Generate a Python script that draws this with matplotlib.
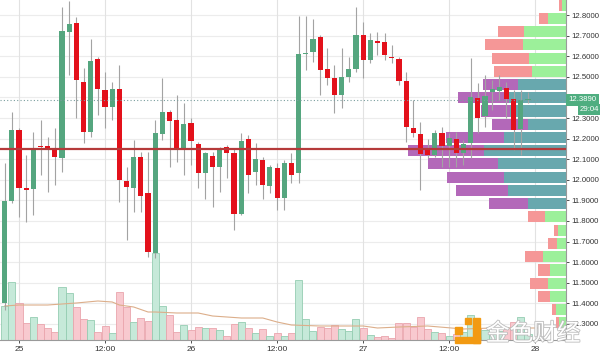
import numpy as np
import matplotlib
matplotlib.use('Agg')
import matplotlib.pyplot as plt
from matplotlib.patches import Rectangle
import matplotlib.patheffects as pe

plt.rcParams['font.family'] = ['Liberation Sans', 'DejaVu Sans']

# ---------------- data ----------------
hours = np.arange(-2, 72)  # hourly candles, 0 = day 25 00:00

opens = [11.402, 11.897, 12.242, 11.960, 11.955, 12.164, 12.164, 12.150, 12.106, 12.717,
         12.761, 12.475, 12.232, 12.586, 12.436, 12.353, 12.441, 11.994, 11.960, 12.111,
         11.936, 11.645, 12.222, 12.329, 12.290, 12.154, 12.276, 12.174, 12.033, 12.116,
         12.062, 12.159, 12.130, 11.834, 12.198, 12.038, 12.096, 11.970, 12.057, 11.912,
         12.082, 12.033, 12.611, 12.620, 12.693, 12.538, 12.494, 12.412, 12.499, 12.538,
         12.703, 12.582, 12.674, 12.669, 12.596, 12.586, 12.480, 12.251, 12.222, 12.145,
         12.120, 12.227, 12.164, 12.198, 12.130, 12.179, 12.397, 12.310, 12.426, 12.431,
         12.446, 12.392, 12.247, 12.387]
closes = [11.897, 12.242, 11.960, 11.951, 12.145, 12.157, 12.154, 12.111, 12.722, 12.756,
          12.484, 12.232, 12.577, 12.441, 12.353, 12.441, 11.999, 11.965, 12.111, 11.921,
          11.650, 12.227, 12.329, 12.285, 12.154, 12.271, 12.188, 12.033, 12.130, 12.062,
          12.150, 12.130, 11.834, 12.188, 12.023, 12.101, 11.975, 12.062, 11.912, 12.082,
          12.023, 12.611, 12.616, 12.683, 12.533, 12.494, 12.412, 12.499, 12.538, 12.703,
          12.582, 12.679, 12.664, 12.606, 12.591, 12.480, 12.256, 12.227, 12.125, 12.120,
          12.227, 12.164, 12.203, 12.130, 12.174, 12.402, 12.300, 12.407, 12.441, 12.451,
          12.392, 12.242, 12.387, 12.389]
highs = [12.082, 12.329, 12.251, 12.120, 12.232, 12.290, 12.208, 12.251, 12.839, 12.870,
         12.790, 12.543, 12.683, 12.596, 12.523, 12.475, 12.557, 12.062, 12.193, 12.135,
         12.135, 12.290, 12.494, 12.339, 12.412, 12.373, 12.300, 12.184, 12.135, 12.135,
         12.159, 12.169, 12.154, 12.227, 12.218, 12.179, 12.111, 12.072, 12.082, 12.096,
         12.130, 12.795, 12.795, 12.781, 12.703, 12.640, 12.557, 12.640, 12.596, 12.839,
         12.766, 12.713, 12.717, 12.713, 12.654, 12.596, 12.523, 12.387, 12.281, 12.198,
         12.242, 12.256, 12.227, 12.232, 12.193, 12.591, 12.470, 12.509, 12.484, 12.509,
         12.475, 12.436, 12.436, 12.426]
lows = [11.368, 11.887, 11.819, 11.795, 11.829, 12.023, 11.941, 11.975, 12.038, 12.509,
        12.300, 12.179, 12.208, 12.315, 12.251, 12.290, 11.892, 11.708, 11.844, 11.844,
        11.625, 11.620, 12.193, 12.062, 12.086, 12.023, 12.072, 11.960, 11.907, 11.868,
        11.941, 12.009, 11.756, 11.829, 11.936, 11.975, 11.907, 11.936, 11.853, 11.853,
        11.985, 11.985, 12.533, 12.572, 12.412, 12.460, 12.324, 12.349, 12.475, 12.523,
        12.494, 12.567, 12.606, 12.582, 12.567, 12.460, 12.184, 12.208, 11.951, 12.106,
        12.111, 12.062, 12.062, 12.062, 12.072, 12.106, 12.227, 12.256, 12.339, 12.387,
        12.300, 12.145, 12.120, 12.373]
volumes = [34, 58, 37, 17, 23, 16, 12, 8, 53, 47,
           33, 21, 20, 8, 14, 7, 48, 33, 18, 22,
           19, 87, 34, 25, 8, 15, 10, 13, 12, 12,
           10, 4, 16, 18, 12, 7, 11, 4, 7, 4,
           7, 60, 21, 9, 13, 12, 15, 11, 9, 21,
           12, 5, 3, 4, 2, 17, 17, 13, 23, 11,
           8, 7, 4, 6, 8, 25, 12, 10, 8, 9,
           12, 18, 23, 6]
ma_hours = [-2, 0, 4, 8, 11, 13, 14, 16, 18, 19, 22, 25, 27, 31, 34, 36, 38, 42, 48, 50, 53, 57, 62, 66, 70, 73]
ma_vals = [34, 35, 35, 37, 39, 38, 35, 33, 28, 28, 27, 27, 24, 22, 22, 18, 15, 14, 14, 12, 13, 14, 11, 12, 12, 12]

prof_levels = [12.849, 12.784, 12.720, 12.656, 12.591, 12.527, 12.463, 12.399, 12.334, 12.270,
               12.205, 12.141, 12.077, 12.013, 11.948, 11.884, 11.820, 11.755, 11.691, 11.627,
               11.562, 11.498, 11.434, 11.369, 11.305]
prof_down = [3, 9, 26, 38, 37, 38, 35, 51, 29, 36, 58, 76, 70, 57, 52, 39, 17, 4, 9, 18, 12, 18, 12, 4, 3]
prof_up = [4, 18, 42, 43, 37, 34, 48, 57, 56, 38, 62, 82, 68, 62, 58, 38, 21, 8, 9, 23, 16, 18, 16, 10, 7]
va_low, va_high = 11.86, 12.48

poc_line = 12.150
last_price = 12.389
countdown = '29:04'

ytick_vals = [11.3, 11.4, 11.5, 11.6, 11.7, 11.8, 11.9, 12.0, 12.1, 12.2, 12.3, 12.4, 12.5, 12.6, 12.7, 12.8]
xtick_pos = [0, 12, 24, 36, 48, 60, 72]
xtick_labels = ['25', '12:00', '26', '12:00', '27', '12:00', '28']

# ---------------- figure ----------------
W, H = 600, 356
fig = plt.figure(figsize=(W / 100, H / 100), dpi=100)
ax = fig.add_axes([0, 16 / H, 566 / W, 340 / H])
x0, x1 = -2.65, 76.3
y0, y1 = 11.222, 12.873
ax.set_xlim(x0, x1)
ax.set_ylim(y0, y1)
px_x = (x1 - x0) / 566.0
px_y = (y1 - y0) / 340.0

for lv in ytick_vals:
    ax.axhline(lv, color='#ececec', lw=0.8, zorder=0)
for t in xtick_pos:
    ax.axvline(t, color='#e2e2e2', lw=0.8, zorder=0)

opens_a = np.array(opens); closes_a = np.array(closes)
up = closes_a >= opens_a

# volume
vface = ['#c6e9d9' if u else '#f8c9cf' for u in up]
vedge = ['#95cdb2' if u else '#eaa5ad' for u in up]
ax.bar(hours, np.array(volumes) * px_y, bottom=y0, width=0.98, color=vface,
       edgecolor=vedge, linewidth=0.6, zorder=1)
ax.plot(ma_hours, y0 + np.array(ma_vals) * px_y, color='#dcae8a', lw=0.8, zorder=1.5)

# volume profile
for lv, d, u in zip(prof_levels, prof_down, prof_up):
    inside = va_low <= lv <= va_high
    c_up = '#68a8ae' if inside else '#9cf09a'
    c_dn = '#b368b9' if inside else '#f59797'
    ax.barh(lv, u * px_x, left=x1 - u * px_x, height=0.054, color=c_up, zorder=2)
    ax.barh(lv, d * px_x, left=x1 - (u + d) * px_x, height=0.054, color=c_dn, zorder=2)

# candles
ax.vlines(hours, lows, highs, color='#a3a3a3', lw=0.8, zorder=3)
body_lo = np.minimum(opens_a, closes_a)
body_h = np.maximum(np.abs(closes_a - opens_a), 1.2 * px_y)
ccol = ['#55a67f' if u else '#e3111b' for u in up]
ax.bar(hours, body_h, bottom=body_lo, width=0.72, color=ccol, zorder=4)

ax.axhline(poc_line, color='#b53a3a', lw=1.6, zorder=5)
ax.axhline(last_price, color='#7a9e9e', lw=0.8, ls=(0, (1, 2)), zorder=5)

# axes styling
ax.yaxis.tick_right()
ax.set_yticks(ytick_vals)
ax.set_yticklabels([f'{v:.4f}' for v in ytick_vals])
ax.set_xticks(xtick_pos)
ax.set_xticklabels(xtick_labels)
ax.tick_params(axis='y', labelsize=5.6, colors='#333333', length=2.5, width=0.6, pad=1.5)
ax.tick_params(axis='x', labelsize=6, colors='#333333', length=2.5, width=0.6, pad=1.5)
for s in ['top', 'left']:
    ax.spines[s].set_visible(False)
for s in ['right', 'bottom']:
    ax.spines[s].set_color('#9a9a9a')
    ax.spines[s].set_linewidth(0.8)

ax.annotate(f'{last_price:.4f}', xy=(1, last_price), xycoords=('axes fraction', 'data'),
            xytext=(2, 0), textcoords='offset points', ha='left', va='center', fontsize=5.6,
            color='white', annotation_clip=False, zorder=10,
            bbox=dict(boxstyle='square,pad=0.3', fc='#4fae80', ec='none'))
ax.annotate(countdown, xy=(1, last_price), xycoords=('axes fraction', 'data'),
            xytext=(10, -7), textcoords='offset points', ha='left', va='center', fontsize=5.6,
            color='white', annotation_clip=False, zorder=10,
            bbox=dict(boxstyle='square,pad=0.3', fc='#4fae80', ec='none'))

# watermark
orange = '#f29a12'
for (rx, ry, rw, rh) in [(473, 318, 7, 25), (455, 337, 25, 6), (455, 327, 7, 7), (465, 318, 6, 6)]:
    fig.patches.append(Rectangle((rx / W, (H - ry - rh) / H), rw / W, rh / H,
                                 transform=fig.transFigure, color=orange, zorder=20))
fig.text(486 / W, (H - 334) / H, '金色财经', fontsize=17, family=['Noto Sans CJK SC', 'DejaVu Sans'],
         color='white', ha='left', va='center', zorder=21,
         path_effects=[pe.withStroke(linewidth=1.2, foreground='#bcbcbc')])

fig.savefig('out.png', dpi=100)
